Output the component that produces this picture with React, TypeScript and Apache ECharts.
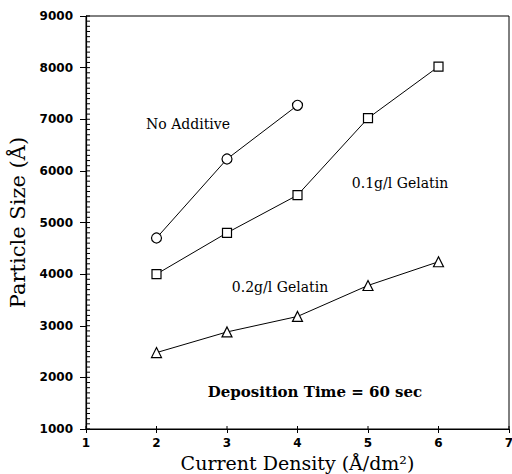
import React, { useEffect, useRef } from "react";
import * as echarts from "echarts";

const currentDensity = [2, 3, 4, 5, 6];
const noAdditive = [4700, 6230, 7270];
const gelatin01 = [4000, 4800, 5530, 7020, 8020];
const gelatin02 = [2480, 2880, 3180, 3780, 4240];
const xRange = [1, 7];
const yRange = [1000, 9000];
const yMinorStep = 100;
const xTickValues = [1, 2, 3, 4, 5, 6, 7];
const annotations = [
  { text: "No Additive", x: 188, y: 124, bold: false },
  { text: "0.1g/l Gelatin", x: 400, y: 183, bold: false },
  { text: "0.2g/l Gelatin", x: 280, y: 287, bold: false },
  { text: "Deposition Time = 60 sec", x: 315, y: 392, bold: true },
];

const pairs = (vals: number[]) => vals.map((v, i) => [currentDensity[i], v]);

const serif = "DejaVu Serif";
const W = 512;
const H = 474;
const G = { left: 86, right: 3, top: 16, bottom: 45 };

export default function App() {
  const ref = useRef<HTMLDivElement>(null);
  useEffect(() => {
    if (!ref.current) return;
    const chart = echarts.init(ref.current, undefined, { renderer: "svg" });
    const mk = (name: string, vals: number[], symbol: string, size: number) => ({
      name,
      type: "line",
      data: pairs(vals),
      symbol,
      symbolSize: size,
      showAllSymbol: true,
      lineStyle: { color: "#000", width: 1 },
      itemStyle: { color: "#fff", borderColor: "#000", borderWidth: 1.2 },
      z: 3,
    });
    const yMinorTicks: number[][] = [];
    for (let v = yRange[0]; v <= yRange[1]; v += yMinorStep) yMinorTicks.push([xRange[0], v]);
    const xInnerTicks = xTickValues.map((x) => [x, yRange[0]]);
    chart.setOption({
      animation: false,
      backgroundColor: "#fff",
      grid: {
        ...G,
        show: true,
        borderColor: "#000",
        borderWidth: 1,
        backgroundColor: "transparent",
        outerBoundsMode: "none",
        containLabel: false,
      },
      xAxis: {
        type: "value",
        min: xRange[0],
        max: xRange[1],
        interval: 1,
        name: "Current Density (Å/dm²)",
        nameLocation: "middle",
        nameGap: 18,
        nameTextStyle: { fontFamily: serif, fontSize: 19, color: "#000" },
        axisLine: { lineStyle: { color: "#000", width: 1.2 } },
        axisTick: { show: true, length: 4, lineStyle: { color: "#000" } },
        axisLabel: {
          fontFamily: "DejaVu Sans",
          fontWeight: "bold",
          fontSize: 12,
          color: "#000",
          margin: 8,
        },
        splitLine: { show: false },
      },
      yAxis: {
        type: "value",
        min: yRange[0],
        max: yRange[1],
        interval: 1000,
        name: "Particle Size (Å)",
        nameLocation: "middle",
        nameGap: 58,
        nameTextStyle: { fontFamily: serif, fontSize: 21, color: "#000" },
        axisLine: { show: true, lineStyle: { color: "#000", width: 1.2 } },
        axisTick: { show: true, length: 6, lineStyle: { color: "#000" } },
        axisLabel: {
          fontFamily: "DejaVu Sans",
          fontWeight: "bold",
          fontSize: 12,
          color: "#000",
          margin: 13,
          formatter: (v: number) => String(v),
        },
        splitLine: { show: false },
      },
      series: [
        mk("No Additive", noAdditive, "circle", 10),
        mk("0.1g/l Gelatin", gelatin01, "rect", 9),
        mk("0.2g/l Gelatin", gelatin02, "triangle", 10),
        {
          type: "custom",
          name: "yMinorTicks",
          silent: true,
          clip: false,
          data: yMinorTicks,
          renderItem: (_p: any, api: any) => {
            const pt = api.coord([api.value(0), api.value(1)]);
            return {
              type: "line",
              shape: { x1: pt[0], y1: pt[1], x2: pt[0] + 4, y2: pt[1] },
              style: { stroke: "#000", lineWidth: 1 },
            };
          },
          z: 4,
        },
        {
          type: "custom",
          name: "xInnerTicks",
          silent: true,
          clip: false,
          data: xInnerTicks,
          renderItem: (_p: any, api: any) => {
            const pt = api.coord([api.value(0), api.value(1)]);
            return {
              type: "line",
              shape: { x1: pt[0], y1: pt[1], x2: pt[0], y2: pt[1] - 3 },
              style: { stroke: "#000", lineWidth: 1 },
            };
          },
          z: 4,
        },
      ],
      graphic: annotations.map((a) => ({
        type: "text",
        x: a.x,
        y: a.y,
        style: {
          text: a.text,
          fontFamily: serif,
          fontSize: a.bold ? 15 : 14,
          fontWeight: a.bold ? "bold" : "normal",
          fill: "#000",
          align: "center",
          verticalAlign: "middle",
        },
      })),
    });
    return () => chart.dispose();
  }, []);
  return <div ref={ref} style={{ width: W, height: H, position: "absolute", left: 0, top: 0 }} />;
}
